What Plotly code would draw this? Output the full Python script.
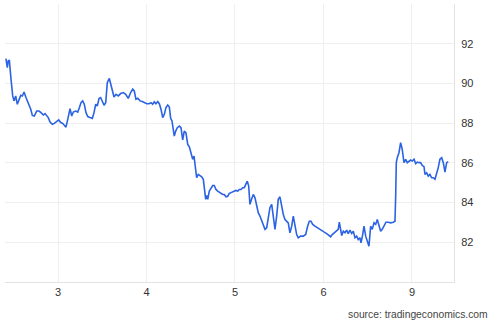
import plotly.graph_objects as go

# x: trading-day position (0 = day "3", 1 = "4", 2 = "5", 3 = "6", 4 = "9")
x_pos = [-0.588, -0.573, -0.562, -0.550, -0.531, -0.512, -0.497, -0.478, -0.460, -0.441,
         -0.421, -0.403, -0.384, -0.362, -0.336, -0.308, -0.290, -0.268, -0.241, -0.215,
         -0.192, -0.166, -0.147, -0.128, -0.110, -0.090, -0.064, -0.042, -0.015, 0.008,
         0.031, 0.053, 0.071, 0.090, 0.110, 0.136, 0.155, 0.173, 0.200, 0.223,
         0.241, 0.260, 0.279, 0.297, 0.316, 0.336, 0.362, 0.388, 0.407, 0.426,
         0.444, 0.463, 0.482, 0.501, 0.520, 0.539, 0.557, 0.580, 0.607, 0.633,
         0.655, 0.681, 0.708, 0.738, 0.765, 0.794, 0.821, 0.844, 0.862, 0.881,
         0.901, 0.927, 0.953, 0.975, 1.002, 1.028, 1.051, 1.070, 1.088, 1.107,
         1.127, 1.145, 1.164, 1.183, 1.201, 1.220, 1.240, 1.258, 1.273, 1.288,
         1.303, 1.314, 1.330, 1.348, 1.371, 1.390, 1.409, 1.427, 1.446, 1.466,
         1.484, 1.503, 1.522, 1.537, 1.556, 1.567, 1.585, 1.605, 1.624, 1.642,
         1.658, 1.669, 1.680, 1.692, 1.710, 1.729, 1.748, 1.766, 1.785, 1.805,
         1.823, 1.842, 1.861, 1.879, 1.898, 1.918, 1.936, 1.955, 1.974, 1.992,
         2.011, 2.031, 2.049, 2.068, 2.087, 2.105, 2.124, 2.139, 2.155, 2.169,
         2.189, 2.207, 2.226, 2.245, 2.263, 2.282, 2.302, 2.320, 2.339, 2.358,
         2.376, 2.395, 2.415, 2.433, 2.452, 2.471, 2.489, 2.508, 2.527, 2.546,
         2.565, 2.584, 2.602, 2.621, 2.641, 2.659, 2.678, 2.697, 2.715, 2.742,
         2.772, 2.799, 2.821, 2.840, 2.859, 2.878, 2.904, 2.930, 2.953, 2.980,
         3.009, 3.036, 3.062, 3.081, 3.099, 3.122, 3.149, 3.167, 3.179, 3.194,
         3.206, 3.224, 3.243, 3.262, 3.280, 3.299, 3.319, 3.337, 3.356, 3.375,
         3.393, 3.412, 3.424, 3.443, 3.458, 3.477, 3.495, 3.514, 3.533, 3.551,
         3.571, 3.590, 3.608, 3.627, 3.646, 3.664, 3.684, 3.706, 3.732, 3.759,
         3.789, 3.808, 3.816, 3.823, 3.834, 3.853, 3.872, 3.890, 3.910, 3.929,
         3.947, 3.966, 3.985, 4.003, 4.023, 4.042, 4.060, 4.079, 4.098, 4.116,
         4.136, 4.147, 4.166, 4.184, 4.203, 4.222, 4.241, 4.260, 4.279, 4.297,
         4.316, 4.336, 4.354, 4.373, 4.392, 4.410]

values = [91.25, 90.80, 91.13, 91.18, 90.21, 89.37, 89.12, 89.37, 88.95, 89.20,
          89.40, 89.37, 89.57, 89.29, 89.03, 88.70, 88.39, 88.36, 88.61, 88.61,
          88.53, 88.41, 88.48, 88.36, 88.28, 88.06, 87.94, 87.99, 88.11, 88.16,
          88.03, 87.99, 87.89, 87.80, 88.19, 88.73, 88.36, 88.56, 88.61, 88.56,
          88.78, 89.03, 89.12, 88.95, 88.53, 88.33, 88.28, 88.24, 88.53, 88.95,
          88.86, 89.24, 89.29, 89.12, 88.90, 89.03, 90.04, 90.25, 89.79, 89.32,
          89.45, 89.37, 89.49, 89.54, 89.45, 89.25, 89.54, 89.71, 89.62, 89.20,
          89.25, 89.12, 89.09, 89.03, 88.98, 88.98, 89.03, 88.95, 89.07, 88.98,
          89.09, 88.98, 88.70, 88.28, 88.44, 88.78, 88.91, 88.81, 88.24, 88.11,
          87.77, 87.35, 87.60, 87.77, 87.85, 87.77, 87.16, 87.60, 87.51, 86.93,
          86.81, 86.51, 86.18, 86.34, 85.67, 85.25, 85.42, 85.37, 85.30, 85.17,
          84.66, 84.16, 84.36, 84.16, 84.58, 84.75, 84.86, 84.86, 84.66, 84.58,
          84.53, 84.50, 84.41, 84.41, 84.29, 84.32, 84.46, 84.50, 84.55, 84.58,
          84.61, 84.58, 84.66, 84.66, 84.75, 84.75, 84.91, 85.08, 84.83, 83.91,
          84.19, 84.41, 84.24, 83.74, 83.49, 83.32, 83.06, 82.81, 82.65, 82.73,
          83.15, 83.74, 83.91, 83.15, 82.65, 83.32, 84.16, 84.29, 83.82, 83.40,
          83.15, 83.06, 82.98, 82.48, 82.81, 83.32, 82.73, 82.39, 82.23, 82.31,
          82.31, 82.39, 82.81, 83.06, 83.06, 82.90, 82.81, 82.73, 82.65, 82.56,
          82.51, 82.44, 82.34, 82.28, 82.39, 82.48, 82.56, 82.65, 83.01, 82.56,
          82.34, 82.56, 82.48, 82.61, 82.43, 82.61, 82.44, 82.56, 82.23, 82.31,
          82.14, 82.23, 81.97, 82.39, 82.81, 82.31, 82.06, 81.80, 82.81, 82.65,
          82.98, 82.90, 83.15, 82.81, 82.56, 82.65, 82.81, 83.01, 83.01, 82.98,
          83.01, 83.06, 84.32, 86.01, 86.26, 86.51, 87.02, 86.68, 86.01, 86.18,
          86.01, 86.09, 86.14, 86.09, 86.18, 85.96, 86.04, 86.01, 86.01, 85.87,
          85.81, 85.42, 85.50, 85.33, 85.42, 85.25, 85.25, 85.17, 85.42, 85.76,
          86.18, 86.26, 86.01, 85.54, 86.01, 86.06]

x_tick_vals = [0, 1, 2, 3, 4]
x_tick_text = ["3", "4", "5", "6", "9"]
y_tick_vals = [80, 82, 84, 86, 88, 90, 92, 94]
y_tick_text = ["", "82", "84", "86", "88", "90", "92", ""]

FONT = "Arial, Liberation Sans, sans-serif"

fig = go.Figure()
fig.add_trace(go.Scatter(
    x=x_pos, y=values, mode="lines",
    line=dict(color="#2b63e3", width=1.6),
    hoverinfo="skip", showlegend=False,
))

fig.update_layout(
    width=495, height=322,
    margin=dict(l=5, r=41, t=4, b=40),
    paper_bgcolor="white", plot_bgcolor="white",
    font=dict(family=FONT, size=11, color="#333333"),
    xaxis=dict(
        range=[-0.599, 4.475],
        tickmode="array", tickvals=x_tick_vals, ticktext=x_tick_text,
        showgrid=True, gridcolor="#efefef", gridwidth=1,
        zeroline=False, showline=True, linecolor="#e3e3e3", linewidth=1,
        ticks="", tickfont=dict(size=11, color="#333333"),
        fixedrange=True,
    ),
    yaxis=dict(
        side="right", range=[80, 94],
        tickmode="array", tickvals=y_tick_vals, ticktext=y_tick_text,
        showgrid=True, gridcolor="#efefef", gridwidth=1,
        zeroline=False, showline=True, linecolor="#e3e3e3", linewidth=1,
        ticks="", ticklabelstandoff=4, tickfont=dict(size=11, color="#333333"),
        fixedrange=True,
    ),
    annotations=[dict(
        text="source: tradingeconomics.com", xref="paper", yref="paper",
        x=1, y=0, xanchor="right", yanchor="middle", xshift=36, yshift=-32,
        showarrow=False, font=dict(family=FONT, size=10.3, color="#444444"),
    )],
)

fig.write_html("out.html")
